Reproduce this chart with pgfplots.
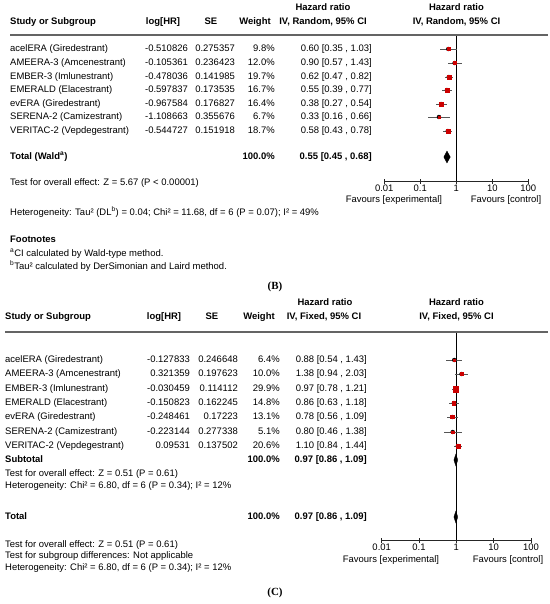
\documentclass[border=0pt]{standalone}
\usepackage{pgfplots}
\pgfplotsset{compat=1.18}
\usepackage{pgfplotstable}
\usepackage{fontspec}
\setmainfont{Liberation Sans}
\newfontfamily\capfont{Liberation Serif}

\newcommand\fs{\fontsize{9.5}{11}\selectfont}
\definecolor{sqred}{RGB}{204,0,0}
\definecolor{cigray}{RGB}{85,85,85}
\definecolor{rulegray}{RGB}{100,100,100}

% y = pixel row of the study line (negative, page top = 0)
\pgfplotstableread{
y    est  lo   hi   w
-49  0.60 0.35 1.03 9.8
-63  0.90 0.57 1.43 12.0
-77  0.62 0.47 0.82 19.7
-90  0.55 0.39 0.77 16.7
-104 0.38 0.27 0.54 16.4
-117 0.33 0.16 0.66 6.7
-131 0.58 0.43 0.78 18.7
}\randomtab

\pgfplotstableread{
y    est  lo   hi   w
-360 0.88 0.54 1.43 6.4
-374 1.38 0.94 2.03 10.0
-389 0.97 0.78 1.21 29.9
-403 0.86 0.63 1.18 14.8
-417 0.78 0.56 1.09 13.1
-432 0.80 0.46 1.38 5.1
-446 1.10 0.84 1.44 20.6
}\fixedtab

\begin{document}
\begin{tikzpicture}
\path[use as bounding box, fill=white] (0bp,0bp) rectangle (550bp,-604bp);

% ---- panel B forest ----
\begin{axis}[at={(384.3bp,-181bp)}, anchor=south west,
  scale only axis, clip=false,
  width=144bp, height=146bp, ymin=-181, ymax=-35,
  xmode=log, xmin=0.01, xmax=100,
  axis x line*=bottom, axis y line=none,
  xtick={0.01,0.1,1,10,100},
  xticklabels={0.01,0.1,1,10,100},
  xminorticks=false,
  xtick align=center, major tick length=5bp,
  axis line style={black!85, line width=0.6pt},
  tick style={black!85, line width=0.6pt},
  xticklabel style={font=\fs, inner sep=0pt, yshift=-1.5bp}]
  \addplot[black, line width=0.6pt] coordinates {(1,-35) (1,-181)};
  \addplot[only marks, mark=none,
    error bars/.cd, x dir=both, x explicit, error mark=none,
    error bar style={cigray, line width=0.7pt}]
    table[x=est, y=y,
    x error plus expr=\thisrow{hi}-\thisrow{est},
    x error minus expr=\thisrow{est}-\thisrow{lo}] {\randomtab};
  \addplot[scatter, only marks, mark=square*,
    scatter/use mapped color={draw=sqred, fill=sqred},
    visualization depends on={0.8+0.065*\thisrow{w} \as \msz},
    scatter/@pre marker code/.append style={/tikz/mark size=\msz}]
    table[x=est, y=y] {\randomtab};
  % total (Wald): 0.55 [0.45, 0.68]
  \addplot[fill=black, draw=black, line width=0.3pt]
    coordinates {(0.45,-157) (0.55,-151) (0.68,-157) (0.55,-163) (0.45,-157)};
\end{axis}

% ---- panel C forest ----
\begin{axis}[at={(381.7bp,-540bp)}, anchor=south west,
  scale only axis, clip=false,
  width=149.3bp, height=208bp, ymin=-540, ymax=-332,
  xmode=log, xmin=0.01, xmax=100,
  axis x line*=bottom, axis y line=none,
  xtick={0.01,0.1,1,10,100},
  xticklabels={0.01,0.1,1,10,100},
  xminorticks=false,
  xtick align=center, major tick length=5bp,
  axis line style={black!85, line width=0.6pt},
  tick style={black!85, line width=0.6pt},
  xticklabel style={font=\fs, inner sep=0pt, yshift=-1.5bp}]
  \addplot[black, line width=0.6pt] coordinates {(1,-332) (1,-540)};
  \addplot[only marks, mark=none,
    error bars/.cd, x dir=both, x explicit, error mark=none,
    error bar style={cigray, line width=0.7pt}]
    table[x=est, y=y,
    x error plus expr=\thisrow{hi}-\thisrow{est},
    x error minus expr=\thisrow{est}-\thisrow{lo}] {\fixedtab};
  \addplot[scatter, only marks, mark=square*,
    scatter/use mapped color={draw=sqred, fill=sqred},
    visualization depends on={0.8+0.065*\thisrow{w} \as \msz},
    scatter/@pre marker code/.append style={/tikz/mark size=\msz}]
    table[x=est, y=y] {\fixedtab};
  % subtotal and total: 0.97 [0.86, 1.09]
  \addplot[fill=black, draw=black, line width=0.3pt]
    coordinates {(0.86,-460) (0.97,-454) (1.09,-460) (0.97,-466) (0.86,-460)};
  \addplot[fill=black, draw=black, line width=0.3pt]
    coordinates {(0.86,-517) (0.97,-511) (1.09,-517) (0.97,-523) (0.86,-517)};
\end{axis}

\begin{scope}[x=1bp, y=-1bp, every node/.style={font=\fs, inner sep=0pt},
  L/.style={anchor=mid west}, R/.style={anchor=mid east}, C/.style={anchor=mid}]
  % ================= panel B =================
  \node[C] at (323,8) {\bfseries Hazard ratio};
  \node[C] at (456.5,8) {\bfseries Hazard ratio};
  \node[L] at (10,22) {\bfseries Study or Subgroup};
  \node[C] at (163,22) {\bfseries log[HR]};
  \node[C] at (211,22) {\bfseries SE};
  \node[C] at (255,22) {\bfseries Weight};
  \node[C] at (323,22) {\bfseries IV, Random, 95\% CI};
  \node[C] at (456.5,22) {\bfseries IV, Random, 95\% CI};
  \draw[rulegray, line width=1.3bp] (10,35) -- (548,35);

  \node[L] at (10,49)  {acelERA (Giredestrant)};
  \node[L] at (10,63)  {AMEERA-3 (Amcenestrant)};
  \node[L] at (10,77)  {EMBER-3 (Imlunestrant)};
  \node[L] at (10,90)  {EMERALD (Elacestrant)};
  \node[L] at (10,104) {evERA (Giredestrant)};
  \node[L] at (10,117) {SERENA-2 (Camizestrant)};
  \node[L] at (10,131) {VERITAC-2 (Vepdegestrant)};

  \node[R] at (188,49)  {-0.510826}; \node[R] at (235,49)  {0.275357};
  \node[R] at (188,63)  {-0.105361}; \node[R] at (235,63)  {0.236423};
  \node[R] at (188,77)  {-0.478036}; \node[R] at (235,77)  {0.141985};
  \node[R] at (188,90)  {-0.597837}; \node[R] at (235,90)  {0.173535};
  \node[R] at (188,104) {-0.967584}; \node[R] at (235,104) {0.176827};
  \node[R] at (188,117) {-1.108663}; \node[R] at (235,117) {0.355676};
  \node[R] at (188,131) {-0.544727}; \node[R] at (235,131) {0.151918};

  \node[R] at (275,49)  {9.8\%};  \node[R] at (372,49)  {0.60 [0.35 , 1.03]};
  \node[R] at (275,63)  {12.0\%}; \node[R] at (372,63)  {0.90 [0.57 , 1.43]};
  \node[R] at (275,77)  {19.7\%}; \node[R] at (372,77)  {0.62 [0.47 , 0.82]};
  \node[R] at (275,90)  {16.7\%}; \node[R] at (372,90)  {0.55 [0.39 , 0.77]};
  \node[R] at (275,104) {16.4\%}; \node[R] at (372,104) {0.38 [0.27 , 0.54]};
  \node[R] at (275,117) {6.7\%};  \node[R] at (372,117) {0.33 [0.16 , 0.66]};
  \node[R] at (275,131) {18.7\%}; \node[R] at (372,131) {0.58 [0.43 , 0.78]};

  \node[L] at (10,157) {\bfseries Total (Wald\textsuperscript{a})};
  \node[R] at (275,157) {\bfseries 100.0\%};
  \node[R] at (372,157) {\bfseries 0.55 [0.45 , 0.68]};

  \node[L] at (10,183) {Test for overall effect: Z = 5.67 (P < 0.00001)};
  \node[L] at (10,213) {Heterogeneity: Tau² (DL\textsuperscript{b}) = 0.04; Chi² = 11.68, df = 6 (P = 0.07); I² = 49\%};
  \node[C] at (394,200) {Favours [experimental]};
  \node[C] at (506,200) {Favours [control]};

  \node[L] at (10,240) {\bfseries Footnotes};
  \node[L] at (10,254) {\textsuperscript{a}CI calculated by Wald-type method.};
  \node[L] at (10,267) {\textsuperscript{b}Tau² calculated by DerSimonian and Laird method.};
  \node[C] at (275,287) {\capfont\fontsize{11}{13}\selectfont\bfseries (B)};

  % ================= panel C =================
  \node[C] at (325,303) {\bfseries Hazard ratio};
  \node[C] at (456.5,303) {\bfseries Hazard ratio};
  \node[L] at (5,317) {\bfseries Study or Subgroup};
  \node[C] at (164,317) {\bfseries log[HR]};
  \node[C] at (212,317) {\bfseries SE};
  \node[C] at (259,317) {\bfseries Weight};
  \node[C] at (324,317) {\bfseries IV, Fixed, 95\% CI};
  \node[C] at (456.5,317) {\bfseries IV, Fixed, 95\% CI};
  \draw[rulegray, line width=1.3bp] (5,332) -- (548,332);

  \node[L] at (5,360) {acelERA (Giredestrant)};
  \node[L] at (5,374) {AMEERA-3 (Amcenestrant)};
  \node[L] at (5,389) {EMBER-3 (Imlunestrant)};
  \node[L] at (5,403) {EMERALD (Elacestrant)};
  \node[L] at (5,417) {evERA (Giredestrant)};
  \node[L] at (5,432) {SERENA-2 (Camizestrant)};
  \node[L] at (5,446) {VERITAC-2 (Vepdegestrant)};

  \node[R] at (190,360) {-0.127833}; \node[R] at (238,360) {0.246648};
  \node[R] at (190,374) {0.321359};  \node[R] at (238,374) {0.197623};
  \node[R] at (190,389) {-0.030459}; \node[R] at (238,389) {0.114112};
  \node[R] at (190,403) {-0.150823}; \node[R] at (238,403) {0.162245};
  \node[R] at (190,417) {-0.248461}; \node[R] at (238,417) {0.17223};
  \node[R] at (190,432) {-0.223144}; \node[R] at (238,432) {0.277338};
  \node[R] at (190,446) {0.09531};   \node[R] at (238,446) {0.137502};

  \node[R] at (280,360) {6.4\%};  \node[R] at (367,360) {0.88 [0.54 , 1.43]};
  \node[R] at (280,374) {10.0\%}; \node[R] at (367,374) {1.38 [0.94 , 2.03]};
  \node[R] at (280,389) {29.9\%}; \node[R] at (367,389) {0.97 [0.78 , 1.21]};
  \node[R] at (280,403) {14.8\%}; \node[R] at (367,403) {0.86 [0.63 , 1.18]};
  \node[R] at (280,417) {13.1\%}; \node[R] at (367,417) {0.78 [0.56 , 1.09]};
  \node[R] at (280,432) {5.1\%};  \node[R] at (367,432) {0.80 [0.46 , 1.38]};
  \node[R] at (280,446) {20.6\%}; \node[R] at (367,446) {1.10 [0.84 , 1.44]};

  \node[L] at (5,460) {\bfseries Subtotal};
  \node[R] at (280,460) {\bfseries 100.0\%};
  \node[R] at (367,460) {\bfseries 0.97 [0.86 , 1.09]};
  \node[L] at (5,474) {Test for overall effect: Z = 0.51 (P = 0.61)};
  \node[L] at (5,486) {Heterogeneity: Chi² = 6.80, df = 6 (P = 0.34); I² = 12\%};

  \node[L] at (5,517) {\bfseries Total};
  \node[R] at (280,517) {\bfseries 100.0\%};
  \node[R] at (367,517) {\bfseries 0.97 [0.86 , 1.09]};
  \node[L] at (5,545) {Test for overall effect: Z = 0.51 (P = 0.61)};
  \node[L] at (5,556) {Test for subgroup differences: Not applicable};
  \node[L] at (5,568) {Heterogeneity: Chi² = 6.80, df = 6 (P = 0.34); I² = 12\%};
  \node[C] at (391,560) {Favours [experimental]};
  \node[C] at (508,560) {Favours [control]};
  \node[C] at (275,593) {\capfont\fontsize{11}{13}\selectfont\bfseries (C)};
\end{scope}
\end{tikzpicture}
\end{document}
